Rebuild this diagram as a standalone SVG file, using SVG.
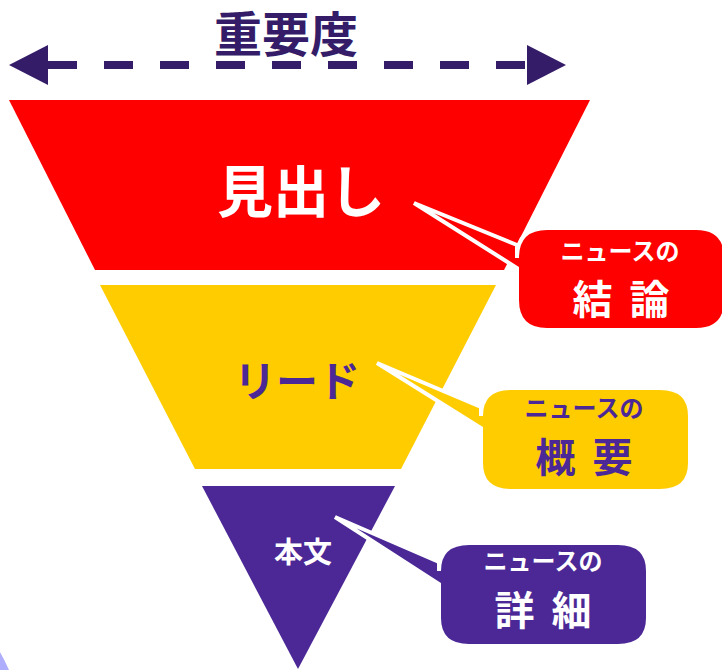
<svg xmlns="http://www.w3.org/2000/svg" width="722" height="670" viewBox="0 0 722 670">
<style>
text{font-family:"Noto Sans CJK JP","Noto Sans",sans-serif;font-weight:700;text-anchor:middle}
.w{fill:#ffffff}.p{fill:#4b2896}
.co{stroke:#ffffff;stroke-width:4;stroke-linejoin:miter}
</style>
<rect width="722" height="670" fill="#ffffff"/>
<path d="M0,652 Q5,661 9,670 L0,670 Z" fill="#aeaefc"/>
<g id="title">
<text x="286" y="52" font-size="48" fill="#341c68">重要度</text>
<line x1="48" y1="65" x2="527" y2="65" stroke="#341c68" stroke-width="8" stroke-dasharray="29 27"/>
<polygon points="9,65 48,45 48,85" fill="#341c68"/>
<polygon points="566,65 527,45 527,85" fill="#341c68"/>
</g>
<g id="headline">
<polygon points="9,100 590,100 504,270 95,270" fill="#ff0000"/>
<text x="301" y="212" font-size="56" class="w">見出し</text>
</g>
<g id="lead">
<polygon points="100,285 496,285 401,469 195,469" fill="#ffcc00"/>
<text x="297" y="397" font-size="42" class="p">リード</text>
</g>
<g id="body">
<polygon points="202,486 395,486 298,669" fill="#4b2896"/>
<text x="303" y="563" font-size="29" class="w">本文</text>
</g>
<g id="connectors">
<path class="co" fill="#ff0000" d="M414,203 L517,245 L517,258 Q517,228 547,228 L696,228 Q726,228 726,258 L726,300 Q726,330 696,330 L547,330 Q517,330 517,300 L517,268 Z"/>
<path class="co" fill="#ffcc00" d="M377,363 L481,407 L481,416 Q481,388 511,388 L660,388 Q690,388 690,416 L690,463 Q690,491 660,491 L511,491 Q481,491 481,463 L481,428 Z"/>
<path class="co" fill="#4b2896" d="M335,517 L439,562 L439,571 Q439,543 469,543 L618,543 Q648,543 648,571 L648,618 Q648,646 618,646 L469,646 Q439,646 439,618 L439,584 Z"/>
</g>
<g id="callout-conclusion">
<text x="620" y="260" font-size="24" class="w">ニュースの</text>
<text x="621" y="314" font-size="40" word-spacing="8" class="w" xml:space="preserve">結 論</text>
</g>
<g id="callout-summary">
<text x="584" y="417" font-size="24" class="p">ニュースの</text>
<text x="584" y="472" font-size="40" word-spacing="8" class="p" xml:space="preserve">概 要</text>
</g>
<g id="callout-detail">
<text x="543" y="570" font-size="24" class="w">ニュースの</text>
<text x="543" y="625" font-size="40" word-spacing="8" class="w" xml:space="preserve">詳 細</text>
</g>
</svg>
